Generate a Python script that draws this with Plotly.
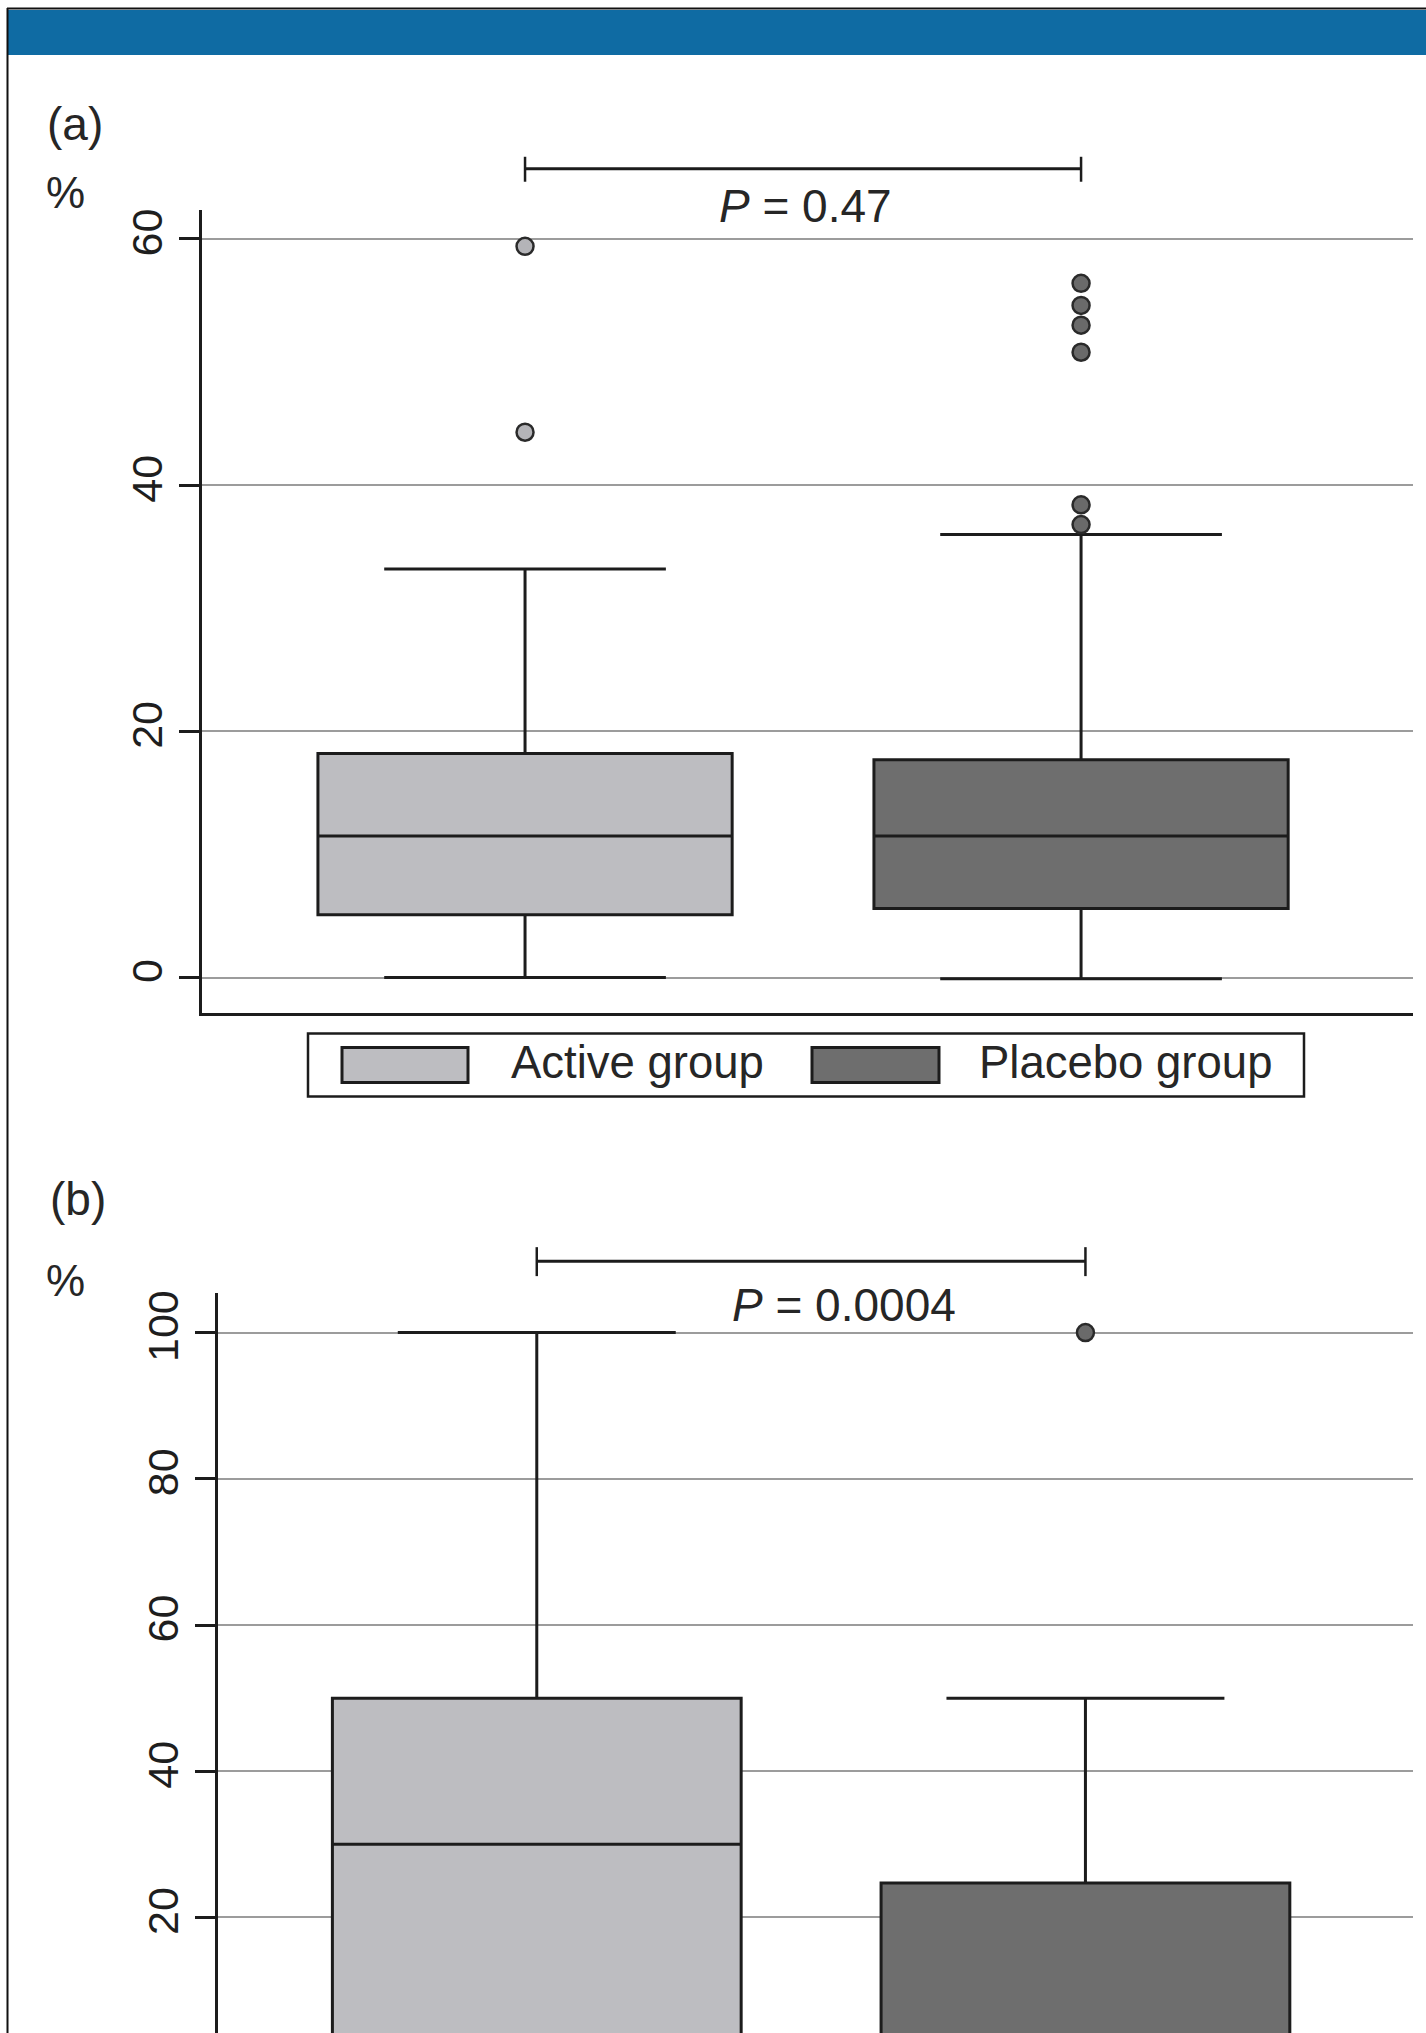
import plotly.graph_objects as go

W, H = 1426, 2033

# ---------------- data ----------------
groups = ["Active group", "Placebo group"]

# panel (a): box statistics (%)
a_q1 = [5.1, 5.6]
a_median = [11.5, 11.5]
a_q3 = [18.2, 17.7]
a_lower = [0.0, -0.1]
a_upper = [33.2, 36.0]
a_out_active = [59.4, 44.3]
a_out_placebo = [56.4, 54.6, 53.0, 50.8, 38.4, 36.8]
a_ticks = [0, 20, 40, 60]
a_p_text = "<i>P</i> = 0.47"

# panel (b): box statistics (%)
b_q1 = [0.0, 0.0]
b_median = [30.0, 0.0]
b_q3 = [50.0, 24.7]
b_lower = [0.0, 0.0]
b_upper = [100.0, 50.0]
b_out_active = []
b_out_placebo = [100.0]
b_ticks = [20, 40, 60, 80, 100]
b_p_text = "<i>P</i> = 0.0004"

# ---------------- styles ----------------
active_fill = "#bdbdc1"
placebo_fill = "#6e6e6e"
active_pt = "#b4b4b8"
placebo_pt = "#6a6a6a"
ink = "#1c1c1c"
grid = "#9c9c9c"
header = "#0f6ba3"
font_main = "Liberation Sans, Arial, sans-serif"
font_tick = "Liberation Sans Narrow, Arial Narrow, Liberation Sans, Arial, sans-serif"


def X(px):
    return px / W


def Y(px):
    return 1 - px / H


fig = go.Figure()

fills = [active_fill, placebo_fill]
for i, g in enumerate(groups):
    fig.add_trace(go.Box(
        x=[g], q1=[a_q1[i]], median=[a_median[i]], q3=[a_q3[i]],
        lowerfence=[a_lower[i]], upperfence=[a_upper[i]],
        width=0.745, whiskerwidth=0.68, fillcolor=fills[i],
        line=dict(color=ink, width=3), boxpoints=False,
        xaxis="x", yaxis="y", showlegend=False, name=g))
    fig.add_trace(go.Box(
        x=[g], q1=[b_q1[i]], median=[b_median[i]], q3=[b_q3[i]],
        lowerfence=[b_lower[i]], upperfence=[b_upper[i]],
        width=0.745, whiskerwidth=0.68, fillcolor=fills[i],
        line=dict(color=ink, width=3), boxpoints=False,
        xaxis="x2", yaxis="y2", showlegend=False, name=g))

outliers = [
    ("x", "y", groups[0], a_out_active, active_pt),
    ("x", "y", groups[1], a_out_placebo, placebo_pt),
    ("x2", "y2", groups[0], b_out_active, active_pt),
    ("x2", "y2", groups[1], b_out_placebo, placebo_pt),
]
for xa, ya, g, vals, col in outliers:
    if not vals:
        continue
    fig.add_trace(go.Scatter(
        x=[g] * len(vals), y=vals, mode="markers", xaxis=xa, yaxis=ya,
        marker=dict(symbol="circle", size=17, color=col,
                    line=dict(color="#2a2a2a", width=2.5)),
        cliponaxis=False, showlegend=False, hoverinfo="y"))

axis_common = dict(
    showgrid=False, zeroline=False, type="category",
    categoryorder="array", categoryarray=groups,
    showticklabels=False, ticks="", range=[-0.581, 1.597], fixedrange=True)

yaxis_common = dict(
    showgrid=True, gridcolor=grid, gridwidth=2, zeroline=False,
    showline=True, linecolor=ink, linewidth=2.5,
    ticks="outside", ticklen=20, tickwidth=2.5, tickcolor=ink,
    tickangle=-90, ticklabelstandoff=0,
    tickfont=dict(family=font_tick, size=43, color="#1e1e1e"),
    tickmode="array", fixedrange=True)

fig.update_layout(
    width=W, height=H, margin=dict(l=0, r=0, t=0, b=0),
    paper_bgcolor="white", plot_bgcolor="white", showlegend=False,
    xaxis=dict(domain=[X(202), X(1413)], anchor="y", showline=True,
               linecolor=ink, linewidth=2.5, **axis_common),
    yaxis=dict(domain=[Y(1011), Y(207)], anchor="x", range=[-2.84, 62.38],
               tickvals=a_ticks, ticktext=[str(t) for t in a_ticks], **yaxis_common),
    xaxis2=dict(domain=[X(218), X(1413)], anchor="y2", showline=False,
                **axis_common),
    yaxis2=dict(domain=[0, Y(1292)], anchor="x2", range=[4.2, 105.4],
                tickvals=b_ticks, ticktext=[str(t) for t in b_ticks], **yaxis_common),
)

shapes = []
# frame + header band
shapes.append(dict(type="rect", xref="paper", yref="paper", x0=X(8), x1=X(1426),
                   y0=Y(52), y1=Y(7), fillcolor=header, line=dict(width=0), layer="above"))
shapes.append(dict(type="line", xref="paper", yref="paper", x0=X(7.5), x1=X(7.5),
                   y0=Y(5), y1=0, line=dict(color="#111", width=2)))
shapes.append(dict(type="line", xref="paper", yref="paper", x0=X(7), x1=X(1426),
                   y0=Y(5.5), y1=Y(5.5), line=dict(color="#111", width=2)))

# significance brackets (between group centres)
for xa, ymid, ytop, ybot in [("x", 166, 154, 179), ("x2", 1260, 1246, 1275)]:
    shapes.append(dict(type="line", xref=xa, yref="paper", x0=0, x1=1,
                       y0=Y(ymid), y1=Y(ymid), line=dict(color=ink, width=3)))
    for xv in (0, 1):
        shapes.append(dict(type="line", xref=xa, yref="paper", x0=xv, x1=xv,
                           y0=Y(ybot), y1=Y(ytop), line=dict(color=ink, width=2.5)))

# legend for panel (a)
shapes.append(dict(type="rect", xref="paper", yref="paper", x0=X(308), x1=X(1304),
                   y0=Y(1095), y1=Y(1032), line=dict(color=ink, width=2.5),
                   fillcolor="white"))
shapes.append(dict(type="rect", xref="paper", yref="paper", x0=X(342), x1=X(468),
                   y0=Y(1081), y1=Y(1046), line=dict(color=ink, width=3),
                   fillcolor=active_fill))
shapes.append(dict(type="rect", xref="paper", yref="paper", x0=X(812), x1=X(939),
                   y0=Y(1081), y1=Y(1046), line=dict(color=ink, width=3),
                   fillcolor=placebo_fill))
fig.update_layout(shapes=shapes)

txt = dict(family=font_main, color="#262626")
ann = [
    dict(text="(a)", x=X(75), y=Y(121), size=46),
    dict(text="%", x=X(65), y=Y(190), size=44),
    dict(text="(b)", x=X(78), y=Y(1198), size=46),
    dict(text="%", x=X(65), y=Y(1279), size=44),
    dict(text=a_p_text, x=X(806), y=Y(203), size=46),
    dict(text=b_p_text, x=X(844), y=Y(1304), size=46),
]
annotations = []
for a in ann:
    annotations.append(dict(text=a["text"], x=a["x"], y=a["y"], xref="paper", yref="paper",
                            xanchor="center", yanchor="middle", showarrow=False,
                            font=dict(size=a["size"], **txt)))
annotations.append(dict(text=groups[0], x=X(509), y=Y(1061), xref="paper", yref="paper",
                        xanchor="left", yanchor="middle", showarrow=False,
                        font=dict(size=45.5, **txt)))
annotations.append(dict(text=groups[1], x=X(977), y=Y(1061), xref="paper", yref="paper",
                        xanchor="left", yanchor="middle", showarrow=False,
                        font=dict(size=45.5, **txt)))
fig.update_layout(annotations=annotations)

fig.write_html("out.html", config={"displayModeBar": False},
               post_script="document.body.style.margin='0';document.body.style.overflow='hidden';")
